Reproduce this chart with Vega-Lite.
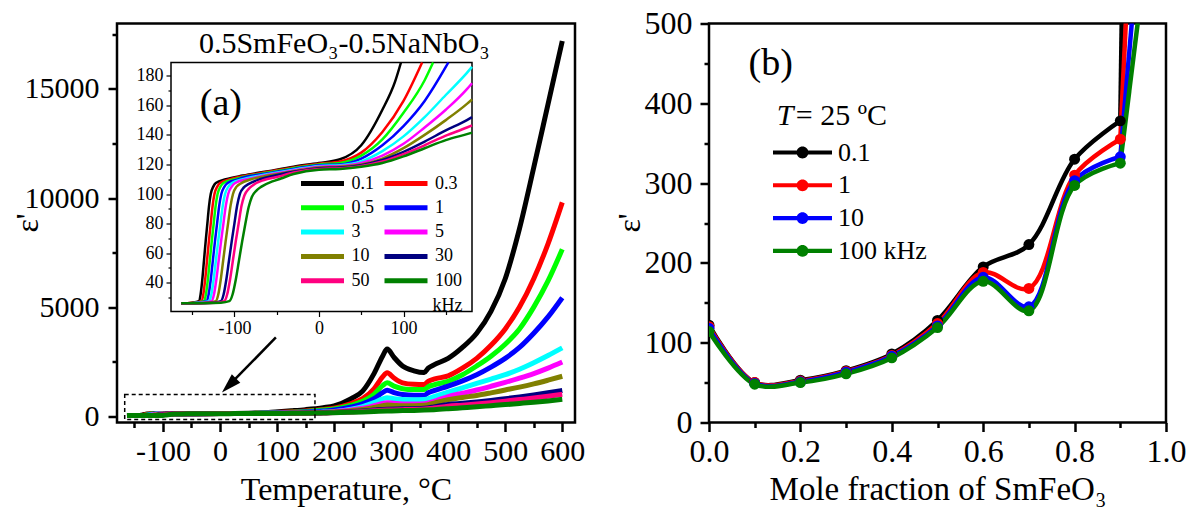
{
"$schema":"https://vega.github.io/schema/vega-lite/v6.json",
"background":"white",
"padding":{"left":9,"top":5.5,"right":2,"bottom":2},
"config":{"font":"Liberation Serif, Times New Roman, serif","view":{"stroke":"black","strokeWidth":2.5},
"axis":{"labelFont":"Liberation Serif","titleFont":"Liberation Serif","labelColor":"black","titleColor":"black","tickColor":"black","domain":false,"grid":false,"titleFontWeight":"normal","labelFlush":false,"labelOverlap":false},
"legend":{"labelFont":"Liberation Serif","titleFont":"Liberation Serif","labelColor":"black","titleColor":"black","titleFontWeight":"normal","padding":0},
"text":{"font":"Liberation Serif","color":"black"}},
"datasets":{
"a":[
{"f":0.1,"T":-163,"e":26},{"f":0.1,"T":-150,"e":26.5},{"f":0.1,"T":-142,"e":27.5},{"f":0.1,"T":-140,"e":32},{"f":0.1,"T":-138,"e":42},{"f":0.1,"T":-136,"e":55},{"f":0.1,"T":-134,"e":68},{"f":0.1,"T":-132,"e":80},{"f":0.1,"T":-130,"e":92},{"f":0.1,"T":-128,"e":100},{"f":0.1,"T":-125,"e":105},{"f":0.1,"T":-122,"e":107.5},{"f":0.1,"T":-110,"e":110},{"f":0.1,"T":-90,"e":112.5},{"f":0.1,"T":-60,"e":115.5},{"f":0.1,"T":-30,"e":118.5},{"f":0.1,"T":0,"e":121},{"f":0.1,"T":25,"e":123.5},{"f":0.1,"T":50,"e":133},{"f":0.1,"T":75,"e":157},{"f":0.1,"T":90,"e":176},{"f":0.1,"T":97,"e":189},{"f":0.1,"T":125,"e":245},{"f":0.1,"T":150,"e":300},{"f":0.1,"T":181,"e":390},{"f":0.1,"T":200,"e":470},{"f":0.1,"T":230,"e":800},{"f":0.1,"T":250,"e":1150},{"f":0.1,"T":270,"e":1950},{"f":0.1,"T":285,"e":2750},{"f":0.1,"T":293,"e":3080},{"f":0.1,"T":305,"e":2700},{"f":0.1,"T":320,"e":2300},{"f":0.1,"T":340,"e":2080},{"f":0.1,"T":358,"e":2000},{"f":0.1,"T":365,"e":2200},{"f":0.1,"T":375,"e":2350},{"f":0.1,"T":400,"e":2650},{"f":0.1,"T":425,"e":3150},{"f":0.1,"T":450,"e":3800},{"f":0.1,"T":475,"e":4800},{"f":0.1,"T":500,"e":6300},{"f":0.1,"T":525,"e":8600},{"f":0.1,"T":550,"e":11400},{"f":0.1,"T":575,"e":14300},{"f":0.1,"T":600,"e":17200},
{"f":0.3,"T":-163,"e":26},{"f":0.3,"T":-150,"e":26.5},{"f":0.3,"T":-139,"e":27.5},{"f":0.3,"T":-136.8,"e":32},{"f":0.3,"T":-134.6,"e":42},{"f":0.3,"T":-132.4,"e":55},{"f":0.3,"T":-130.2,"e":68},{"f":0.3,"T":-128,"e":80},{"f":0.3,"T":-125.8,"e":92},{"f":0.3,"T":-123.6,"e":100},{"f":0.3,"T":-120.3,"e":105},{"f":0.3,"T":-117,"e":107.5},{"f":0.3,"T":-105,"e":110},{"f":0.3,"T":-90,"e":112},{"f":0.3,"T":-60,"e":115},{"f":0.3,"T":-30,"e":118},{"f":0.3,"T":0,"e":120.5},{"f":0.3,"T":25,"e":122},{"f":0.3,"T":50,"e":128},{"f":0.3,"T":75,"e":142},{"f":0.3,"T":100,"e":163},{"f":0.3,"T":122,"e":189},{"f":0.3,"T":150,"e":232},{"f":0.3,"T":181,"e":305},{"f":0.3,"T":200,"e":370},{"f":0.3,"T":230,"e":580},{"f":0.3,"T":250,"e":800},{"f":0.3,"T":270,"e":1250},{"f":0.3,"T":285,"e":1800},{"f":0.3,"T":293,"e":1990},{"f":0.3,"T":305,"e":1750},{"f":0.3,"T":320,"e":1530},{"f":0.3,"T":340,"e":1460},{"f":0.3,"T":358,"e":1450},{"f":0.3,"T":365,"e":1600},{"f":0.3,"T":375,"e":1700},{"f":0.3,"T":400,"e":1850},{"f":0.3,"T":425,"e":2200},{"f":0.3,"T":450,"e":2650},{"f":0.3,"T":475,"e":3250},{"f":0.3,"T":500,"e":4000},{"f":0.3,"T":525,"e":5000},{"f":0.3,"T":550,"e":6300},{"f":0.3,"T":575,"e":7900},{"f":0.3,"T":600,"e":9800},
{"f":0.5,"T":-163,"e":26},{"f":0.5,"T":-146,"e":26.5},{"f":0.5,"T":-136,"e":27.5},{"f":0.5,"T":-133.7,"e":32},{"f":0.5,"T":-131.4,"e":42},{"f":0.5,"T":-129.1,"e":55},{"f":0.5,"T":-126.8,"e":68},{"f":0.5,"T":-124.5,"e":80},{"f":0.5,"T":-122.2,"e":92},{"f":0.5,"T":-119.9,"e":100},{"f":0.5,"T":-116.5,"e":105},{"f":0.5,"T":-113,"e":107.5},{"f":0.5,"T":-100,"e":110},{"f":0.5,"T":-90,"e":111.5},{"f":0.5,"T":-60,"e":114.5},{"f":0.5,"T":-30,"e":117.5},{"f":0.5,"T":0,"e":120},{"f":0.5,"T":25,"e":121},{"f":0.5,"T":50,"e":126},{"f":0.5,"T":75,"e":137},{"f":0.5,"T":100,"e":155},{"f":0.5,"T":125,"e":177},{"f":0.5,"T":135,"e":189},{"f":0.5,"T":150,"e":212},{"f":0.5,"T":181,"e":278},{"f":0.5,"T":200,"e":330},{"f":0.5,"T":230,"e":500},{"f":0.5,"T":250,"e":680},{"f":0.5,"T":270,"e":1000},{"f":0.5,"T":285,"e":1400},{"f":0.5,"T":293,"e":1530},{"f":0.5,"T":305,"e":1380},{"f":0.5,"T":320,"e":1260},{"f":0.5,"T":340,"e":1220},{"f":0.5,"T":358,"e":1220},{"f":0.5,"T":365,"e":1350},{"f":0.5,"T":375,"e":1440},{"f":0.5,"T":400,"e":1600},{"f":0.5,"T":425,"e":1900},{"f":0.5,"T":450,"e":2300},{"f":0.5,"T":475,"e":2750},{"f":0.5,"T":500,"e":3300},{"f":0.5,"T":525,"e":4000},{"f":0.5,"T":550,"e":5000},{"f":0.5,"T":575,"e":6200},{"f":0.5,"T":600,"e":7650},
{"f":1,"T":-163,"e":26},{"f":1,"T":-143,"e":26.5},{"f":1,"T":-133,"e":27.5},{"f":1,"T":-130.5,"e":32},{"f":1,"T":-128,"e":42},{"f":1,"T":-125.5,"e":55},{"f":1,"T":-123,"e":68},{"f":1,"T":-120.5,"e":80},{"f":1,"T":-118,"e":92},{"f":1,"T":-115.5,"e":100},{"f":1,"T":-111.8,"e":105},{"f":1,"T":-108,"e":107.5},{"f":1,"T":-95,"e":110},{"f":1,"T":-90,"e":111},{"f":1,"T":-60,"e":114},{"f":1,"T":-30,"e":117},{"f":1,"T":0,"e":119.5},{"f":1,"T":25,"e":120},{"f":1,"T":50,"e":124},{"f":1,"T":75,"e":133},{"f":1,"T":100,"e":146},{"f":1,"T":125,"e":163},{"f":1,"T":150,"e":186},{"f":1,"T":153,"e":189},{"f":1,"T":181,"e":235},{"f":1,"T":200,"e":280},{"f":1,"T":230,"e":420},{"f":1,"T":250,"e":560},{"f":1,"T":270,"e":800},{"f":1,"T":285,"e":1080},{"f":1,"T":293,"e":1190},{"f":1,"T":305,"e":1080},{"f":1,"T":320,"e":990},{"f":1,"T":340,"e":960},{"f":1,"T":358,"e":960},{"f":1,"T":365,"e":1070},{"f":1,"T":375,"e":1170},{"f":1,"T":400,"e":1380},{"f":1,"T":425,"e":1620},{"f":1,"T":450,"e":1900},{"f":1,"T":475,"e":2250},{"f":1,"T":500,"e":2650},{"f":1,"T":525,"e":3150},{"f":1,"T":550,"e":3800},{"f":1,"T":575,"e":4550},{"f":1,"T":600,"e":5430},
{"f":3,"T":-163,"e":26},{"f":3,"T":-140,"e":26.5},{"f":3,"T":-130,"e":27.5},{"f":3,"T":-127.3,"e":32},{"f":3,"T":-124.6,"e":42},{"f":3,"T":-121.9,"e":55},{"f":3,"T":-119.2,"e":68},{"f":3,"T":-116.5,"e":80},{"f":3,"T":-113.8,"e":92},{"f":3,"T":-111.1,"e":100},{"f":3,"T":-107.1,"e":105},{"f":3,"T":-103,"e":107.5},{"f":3,"T":-90,"e":110},{"f":3,"T":-60,"e":113.5},{"f":3,"T":-30,"e":116.5},{"f":3,"T":0,"e":119},{"f":3,"T":25,"e":119.5},{"f":3,"T":50,"e":122},{"f":3,"T":75,"e":129},{"f":3,"T":100,"e":139},{"f":3,"T":125,"e":152},{"f":3,"T":150,"e":167},{"f":3,"T":175,"e":182},{"f":3,"T":181,"e":186},{"f":3,"T":200,"e":220},{"f":3,"T":230,"e":320},{"f":3,"T":250,"e":440},{"f":3,"T":270,"e":620},{"f":3,"T":285,"e":790},{"f":3,"T":293,"e":850},{"f":3,"T":305,"e":800},{"f":3,"T":320,"e":760},{"f":3,"T":340,"e":750},{"f":3,"T":358,"e":760},{"f":3,"T":375,"e":900},{"f":3,"T":400,"e":1100},{"f":3,"T":425,"e":1300},{"f":3,"T":450,"e":1500},{"f":3,"T":475,"e":1700},{"f":3,"T":500,"e":1900},{"f":3,"T":525,"e":2150},{"f":3,"T":550,"e":2450},{"f":3,"T":575,"e":2780},{"f":3,"T":600,"e":3130},
{"f":5,"T":-163,"e":26},{"f":5,"T":-137,"e":26.5},{"f":5,"T":-127,"e":27.5},{"f":5,"T":-124.2,"e":32},{"f":5,"T":-121.4,"e":42},{"f":5,"T":-118.6,"e":55},{"f":5,"T":-115.8,"e":68},{"f":5,"T":-113,"e":80},{"f":5,"T":-110.2,"e":92},{"f":5,"T":-107.4,"e":100},{"f":5,"T":-103.2,"e":105},{"f":5,"T":-99,"e":107.5},{"f":5,"T":-85,"e":110},{"f":5,"T":-60,"e":113},{"f":5,"T":-30,"e":116},{"f":5,"T":0,"e":118.5},{"f":5,"T":25,"e":119},{"f":5,"T":50,"e":121},{"f":5,"T":75,"e":126},{"f":5,"T":100,"e":134},{"f":5,"T":125,"e":145},{"f":5,"T":150,"e":157},{"f":5,"T":175,"e":171},{"f":5,"T":181,"e":175},{"f":5,"T":200,"e":205},{"f":5,"T":230,"e":280},{"f":5,"T":250,"e":360},{"f":5,"T":270,"e":480},{"f":5,"T":285,"e":580},{"f":5,"T":293,"e":615},{"f":5,"T":305,"e":590},{"f":5,"T":320,"e":560},{"f":5,"T":340,"e":555},{"f":5,"T":358,"e":570},{"f":5,"T":375,"e":680},{"f":5,"T":400,"e":900},{"f":5,"T":425,"e":1050},{"f":5,"T":450,"e":1200},{"f":5,"T":475,"e":1370},{"f":5,"T":500,"e":1550},{"f":5,"T":525,"e":1740},{"f":5,"T":550,"e":1950},{"f":5,"T":575,"e":2200},{"f":5,"T":600,"e":2480},
{"f":10,"T":-163,"e":26},{"f":10,"T":-132,"e":26.5},{"f":10,"T":-122,"e":27.5},{"f":10,"T":-119.1,"e":32},{"f":10,"T":-116.2,"e":42},{"f":10,"T":-113.3,"e":55},{"f":10,"T":-110.4,"e":68},{"f":10,"T":-107.5,"e":80},{"f":10,"T":-104.6,"e":92},{"f":10,"T":-101.7,"e":100},{"f":10,"T":-97.4,"e":105},{"f":10,"T":-93,"e":107},{"f":10,"T":-80,"e":110},{"f":10,"T":-60,"e":112.5},{"f":10,"T":-30,"e":115.5},{"f":10,"T":0,"e":118},{"f":10,"T":25,"e":118.5},{"f":10,"T":50,"e":120},{"f":10,"T":75,"e":124},{"f":10,"T":100,"e":131},{"f":10,"T":125,"e":140},{"f":10,"T":150,"e":150},{"f":10,"T":175,"e":161},{"f":10,"T":181,"e":164},{"f":10,"T":200,"e":190},{"f":10,"T":230,"e":250},{"f":10,"T":250,"e":310},{"f":10,"T":270,"e":400},{"f":10,"T":285,"e":480},{"f":10,"T":293,"e":510},{"f":10,"T":305,"e":495},{"f":10,"T":320,"e":480},{"f":10,"T":340,"e":480},{"f":10,"T":358,"e":500},{"f":10,"T":375,"e":600},{"f":10,"T":400,"e":760},{"f":10,"T":425,"e":860},{"f":10,"T":450,"e":950},{"f":10,"T":475,"e":1070},{"f":10,"T":500,"e":1200},{"f":10,"T":525,"e":1330},{"f":10,"T":550,"e":1480},{"f":10,"T":575,"e":1650},{"f":10,"T":600,"e":1830},
{"f":30,"T":-163,"e":26},{"f":30,"T":-126,"e":26.5},{"f":30,"T":-116,"e":27.5},{"f":30,"T":-112.8,"e":32},{"f":30,"T":-109.6,"e":42},{"f":30,"T":-106.4,"e":55},{"f":30,"T":-103.2,"e":68},{"f":30,"T":-100,"e":80},{"f":30,"T":-96.8,"e":92},{"f":30,"T":-93.6,"e":100},{"f":30,"T":-88.8,"e":104.5},{"f":30,"T":-84,"e":106.5},{"f":30,"T":-70,"e":110},{"f":30,"T":-60,"e":111.5},{"f":30,"T":-30,"e":115},{"f":30,"T":0,"e":117.5},{"f":30,"T":25,"e":118},{"f":30,"T":50,"e":119.5},{"f":30,"T":75,"e":123},{"f":30,"T":100,"e":128.5},{"f":30,"T":125,"e":135.5},{"f":30,"T":150,"e":143},{"f":30,"T":175,"e":150},{"f":30,"T":181,"e":152},{"f":30,"T":200,"e":170},{"f":30,"T":230,"e":210},{"f":30,"T":250,"e":240},{"f":30,"T":270,"e":280},{"f":30,"T":293,"e":320},{"f":30,"T":320,"e":335},{"f":30,"T":340,"e":345},{"f":30,"T":358,"e":360},{"f":30,"T":375,"e":420},{"f":30,"T":400,"e":540},{"f":30,"T":425,"e":590},{"f":30,"T":450,"e":650},{"f":30,"T":475,"e":720},{"f":30,"T":500,"e":800},{"f":30,"T":525,"e":880},{"f":30,"T":550,"e":970},{"f":30,"T":575,"e":1070},{"f":30,"T":600,"e":1180},
{"f":50,"T":-163,"e":26},{"f":50,"T":-122,"e":26.5},{"f":50,"T":-112,"e":27.5},{"f":50,"T":-108.6,"e":32},{"f":50,"T":-105.2,"e":42},{"f":50,"T":-101.8,"e":55},{"f":50,"T":-98.4,"e":68},{"f":50,"T":-95,"e":80},{"f":50,"T":-91.6,"e":92},{"f":50,"T":-88.2,"e":99},{"f":50,"T":-83.1,"e":103.5},{"f":50,"T":-78,"e":106},{"f":50,"T":-65,"e":109.5},{"f":50,"T":-50,"e":111.5},{"f":50,"T":-30,"e":114.5},{"f":50,"T":0,"e":117},{"f":50,"T":25,"e":117.5},{"f":50,"T":50,"e":119},{"f":50,"T":75,"e":122},{"f":50,"T":100,"e":127},{"f":50,"T":125,"e":133},{"f":50,"T":150,"e":139.5},{"f":50,"T":175,"e":145},{"f":50,"T":181,"e":146.5},{"f":50,"T":200,"e":165},{"f":50,"T":230,"e":195},{"f":50,"T":250,"e":220},{"f":50,"T":270,"e":250},{"f":50,"T":293,"e":280},{"f":50,"T":320,"e":300},{"f":50,"T":340,"e":310},{"f":50,"T":358,"e":325},{"f":50,"T":375,"e":370},{"f":50,"T":400,"e":460},{"f":50,"T":425,"e":505},{"f":50,"T":450,"e":560},{"f":50,"T":475,"e":620},{"f":50,"T":500,"e":690},{"f":50,"T":525,"e":760},{"f":50,"T":550,"e":830},{"f":50,"T":575,"e":910},{"f":50,"T":600,"e":1000},
{"f":100,"T":-163,"e":26},{"f":100,"T":-116,"e":26.5},{"f":100,"T":-106,"e":27.5},{"f":100,"T":-102.2,"e":32},{"f":100,"T":-98.4,"e":42},{"f":100,"T":-94.6,"e":55},{"f":100,"T":-90.8,"e":68},{"f":100,"T":-87,"e":80},{"f":100,"T":-83.2,"e":91},{"f":100,"T":-79.4,"e":98},{"f":100,"T":-73.7,"e":102.5},{"f":100,"T":-68,"e":105},{"f":100,"T":-55,"e":108.5},{"f":100,"T":-45,"e":110.5},{"f":100,"T":-30,"e":113.5},{"f":100,"T":0,"e":116.5},{"f":100,"T":25,"e":117},{"f":100,"T":50,"e":118.5},{"f":100,"T":75,"e":121},{"f":100,"T":100,"e":125.5},{"f":100,"T":125,"e":131},{"f":100,"T":150,"e":136.5},{"f":100,"T":175,"e":140.5},{"f":100,"T":181,"e":141.5},{"f":100,"T":200,"e":158},{"f":100,"T":230,"e":180},{"f":100,"T":250,"e":195},{"f":100,"T":270,"e":215},{"f":100,"T":293,"e":240},{"f":100,"T":320,"e":255},{"f":100,"T":340,"e":265},{"f":100,"T":358,"e":280},{"f":100,"T":375,"e":300},{"f":100,"T":400,"e":340},{"f":100,"T":425,"e":385},{"f":100,"T":450,"e":430},{"f":100,"T":475,"e":480},{"f":100,"T":500,"e":530},{"f":100,"T":525,"e":585},{"f":100,"T":550,"e":640},{"f":100,"T":575,"e":700},{"f":100,"T":600,"e":770}
],
"b":[
{"s":"0.1","x":0,"e":122},{"s":"0.1","x":0.1,"e":50},{"s":"0.1","x":0.2,"e":53},{"s":"0.1","x":0.3,"e":65},{"s":"0.1","x":0.4,"e":86},{"s":"0.1","x":0.5,"e":128},{"s":"0.1","x":0.6,"e":195},{"s":"0.1","x":0.7,"e":223},{"s":"0.1","x":0.8,"e":330},{"s":"0.1","x":0.9,"e":378},{"s":"0.1","x":1.0,"e":4450},
{"s":"1","x":0,"e":120},{"s":"1","x":0.1,"e":50},{"s":"1","x":0.2,"e":52},{"s":"1","x":0.3,"e":64},{"s":"1","x":0.4,"e":84},{"s":"1","x":0.5,"e":124},{"s":"1","x":0.6,"e":188},{"s":"1","x":0.7,"e":168},{"s":"1","x":0.8,"e":310},{"s":"1","x":0.9,"e":355},{"s":"1","x":1.0,"e":1560},
{"s":"10","x":0,"e":118},{"s":"10","x":0.1,"e":49},{"s":"10","x":0.2,"e":51},{"s":"10","x":0.3,"e":63},{"s":"10","x":0.4,"e":83},{"s":"10","x":0.5,"e":121},{"s":"10","x":0.6,"e":182},{"s":"10","x":0.7,"e":145},{"s":"10","x":0.8,"e":303},{"s":"10","x":0.9,"e":333},{"s":"10","x":1.0,"e":1000},
{"s":"100 kHz","x":0,"e":114},{"s":"100 kHz","x":0.1,"e":48},{"s":"100 kHz","x":0.2,"e":50},{"s":"100 kHz","x":0.3,"e":61},{"s":"100 kHz","x":0.4,"e":81},{"s":"100 kHz","x":0.5,"e":119},{"s":"100 kHz","x":0.6,"e":177},{"s":"100 kHz","x":0.7,"e":140},{"s":"100 kHz","x":0.8,"e":297},{"s":"100 kHz","x":0.9,"e":325},{"s":"100 kHz","x":1.0,"e":786}
]},
"spacing":24,
"resolve":{"scale":{"color":"independent"},"legend":{"color":"independent"}},
"hconcat":[
{"width":458,"height":399,
"resolve":{"scale":{"x":"independent","y":"independent"}},
"layer":[
{"resolve":{"axis":{"x":"independent","y":"independent"}},
"layer":[
{"data":{"name":"a"},
"mark":{"type":"line","strokeWidth":5,"interpolate":"monotone"},
"encoding":{
"x":{"field":"T","type":"quantitative","scale":{"domain":[-180.5,622.3],"nice":false,"zero":false},"axis":{"orient":"bottom","values":[-100,0,100,200,300,400,500,600],"format":"d","labelExpr":"replace(datum.label,'−','-')","tickSize":9,"tickWidth":2.5,"labelFont":"Liberation Serif","labelFontSize":30,"labelPadding":4.5,"title":"Temperature, °C","titleFont":"Liberation Serif","titleFontSize":32,"titlePadding":8}},
"y":{"field":"e","type":"quantitative","scale":{"domain":[-290,18000],"nice":false,"zero":false},"axis":{"orient":"left","values":[0,5000,10000,15000],"format":"d","tickSize":9,"tickWidth":2.5,"labelFont":"Liberation Serif","labelFontSize":30,"labelPadding":9,"title":"ε'","titleFont":"Liberation Serif","titleFontSize":32,"titleX":-90,"titleY":199,"titleAngle":-90,"titleAlign":"center","titleBaseline":"middle"}},
"color":{"field":"f","type":"ordinal","scale":{"domain":[0.1,0.3,0.5,1,3,5,10,30,50,100],"range":["#000000","#ff0000","#00ff00","#0000ff","#00ffff","#ff00ff","#808000","#000080","#ff0080","#008000"]},
"legend":{"orient":"none","legendX":181.5,"legendY":151,"columns":2,"direction":"horizontal","symbolType":"stroke","symbolSize":1849,"symbolStrokeWidth":5,"clipHeight":18,"rowPadding":6.3,"columnPadding":7.5,"labelOffset":5,"labelFont":"Liberation Serif","labelFontSize":18,"title":"kHz\u00a0\u00a0\u00a0\u00a0","titleFont":"Liberation Serif","titleOrient":"bottom","titleAnchor":"end","titleFontSize":18,"titlePadding":7}}}},
{"data":{"values":[{}]},
"mark":{"type":"rect","fill":"transparent","stroke":"black","strokeWidth":1.5,"strokeDash":[4,3]},
"encoding":{
"x":{"datum":-167,"type":"quantitative","scale":{"domain":[-180.5,622.3],"nice":false,"zero":false},"axis":{"orient":"bottom","values":[-150,-50,50,150,250,350,450,550],"tickSize":5,"tickWidth":2.5,"labels":false,"title":null}},
"x2":{"datum":166.5},
"y":{"datum":-151,"type":"quantitative","scale":{"domain":[-290,18000],"nice":false,"zero":false},"axis":{"orient":"left","values":[2500,7500,12500,17500],"tickSize":5,"tickWidth":2.5,"labels":false,"title":null}},
"y2":{"datum":994}}},
{"data":{"values":[{}]},
"mark":{"type":"rule","strokeWidth":2.5,"color":"black"},
"encoding":{
"x":{"datum":98,"type":"quantitative","scale":{"domain":[-180.5,622.3],"nice":false,"zero":false},"axis":null},
"x2":{"datum":25.6},
"y":{"datum":3607,"type":"quantitative","scale":{"domain":[-290,18000],"nice":false,"zero":false},"axis":null},
"y2":{"datum":1673}}},
{"data":{"values":[{}]},
"mark":{"type":"point","shape":"M0,-1L0.6,1L-0.6,1Z","filled":true,"color":"black","opacity":1,"size":400,"angle":225},
"encoding":{
"x":{"datum":15.8,"type":"quantitative","scale":{"domain":[-180.5,622.3],"nice":false,"zero":false},"axis":null},
"y":{"datum":1407,"type":"quantitative","scale":{"domain":[-290,18000],"nice":false,"zero":false},"axis":null}}},
{"data":{"values":[{}]},
"mark":{"type":"text","text":"0.5SmFeO₃-0.5NaNbO₃","fontSize":30,"align":"center","baseline":"alphabetic"},
"encoding":{
"x":{"datum":218,"type":"quantitative","scale":{"domain":[-180.5,622.3],"nice":false,"zero":false},"axis":null},
"y":{"datum":16668,"type":"quantitative","scale":{"domain":[-290,18000],"nice":false,"zero":false},"axis":null}}}
]},
{"resolve":{"axis":{"x":"independent","y":"independent"}},
"layer":[
{"data":{"values":[{}]},
"mark":{"type":"rect","fill":"white","stroke":"black","strokeWidth":1.5},
"encoding":{
"x":{"datum":-175,"type":"quantitative","scale":{"domain":[-175,181],"range":[54,355],"nice":false,"zero":false},"axis":{"orient":"bottom","offset":-111,"values":[-150,-50,50,150],"tickSize":3,"tickWidth":1.2,"labels":false,"title":null}},
"x2":{"datum":181},
"y":{"datum":20.5,"type":"quantitative","scale":{"domain":[20.5,189],"range":[288,39],"nice":false,"zero":false},"axis":{"orient":"left","offset":-54,"values":[30,50,70,90,110,130,150,170],"tickSize":3,"tickWidth":1.2,"labels":false,"title":null}},
"y2":{"datum":189}}},
{"data":{"name":"a"},
"transform":[{"filter":"datum.T <= 181 && datum.e <= 189.5"}],
"mark":{"type":"line","strokeWidth":2.5,"interpolate":"monotone"},
"encoding":{
"x":{"field":"T","type":"quantitative","scale":{"domain":[-175,181],"range":[54,355],"nice":false,"zero":false},"axis":{"orient":"bottom","offset":-111,"values":[-100,0,100],"format":"d","labelExpr":"replace(datum.label,'−','-')","tickSize":5,"tickWidth":1.2,"labelFont":"Liberation Serif","labelFontSize":18,"labelPadding":3,"title":null}},
"y":{"field":"e","type":"quantitative","scale":{"domain":[20.5,189],"range":[288,39],"nice":false,"zero":false},"axis":{"orient":"left","offset":-54,"values":[40,60,80,100,120,140,160,180],"format":"d","tickSize":5,"tickWidth":1.2,"labelFont":"Liberation Serif","labelFontSize":18,"labelPadding":3,"title":null}},
"color":{"field":"f","type":"ordinal","scale":{"domain":[0.1,0.3,0.5,1,3,5,10,30,50,100],"range":["#000000","#ff0000","#00ff00","#0000ff","#00ffff","#ff00ff","#808000","#000080","#ff0080","#008000"]},
"legend":{"orient":"none","legendX":181.5,"legendY":151,"columns":2,"direction":"horizontal","symbolType":"stroke","symbolSize":1849,"symbolStrokeWidth":5,"clipHeight":18,"rowPadding":6.3,"columnPadding":7.5,"labelOffset":5,"labelFont":"Liberation Serif","labelFontSize":18,"title":"kHz\u00a0\u00a0\u00a0\u00a0","titleFont":"Liberation Serif","titleOrient":"bottom","titleAnchor":"end","titleFontSize":18,"titlePadding":7}}}},
{"data":{"values":[{}]},
"mark":{"type":"text","text":"(a)","fontSize":38,"align":"center","baseline":"alphabetic"},
"encoding":{
"x":{"datum":-116,"type":"quantitative","scale":{"domain":[-175,181],"range":[54,355],"nice":false,"zero":false},"axis":null},
"y":{"datum":153.8,"type":"quantitative","scale":{"domain":[20.5,189],"range":[288,39],"nice":false,"zero":false},"axis":null}}}
]}
]},
{"width":457,"height":399,
"resolve":{"axis":{"x":"independent","y":"independent"}},
"layer":[
{"data":{"name":"b"},
"transform":[{"filter":"datum.x <= 0.9"}],
"mark":{"type":"line","strokeWidth":4.5,"interpolate":"catmull-rom","clip":true},
"encoding":{
"x":{"field":"x","type":"quantitative","scale":{"domain":[0,1],"nice":false,"zero":false},"axis":{"orient":"bottom","values":[0,0.2,0.4,0.6,0.8,1],"format":".1f","tickSize":9,"tickWidth":2.5,"labelFont":"Liberation Serif","labelFontSize":32,"labelPadding":5,"title":"Mole fraction of SmFeO₃","titleFont":"Liberation Serif","titleFontSize":33,"titlePadding":6}},
"y":{"field":"e","type":"quantitative","scale":{"domain":[0,500],"nice":false,"zero":false},"axis":{"orient":"left","values":[0,100,200,300,400,500],"format":"d","tickSize":9,"tickWidth":2.5,"labelFont":"Liberation Serif","labelFontSize":32,"labelPadding":8,"title":"ε'","titleFont":"Liberation Serif","titleFontSize":32,"titleX":-80,"titleY":199,"titleAngle":-90,"titleAlign":"center","titleBaseline":"middle"}},
"color":{"field":"s","type":"nominal","scale":{"domain":["0.1","1","10","100 kHz"],"range":["#000000","#ff0000","#0000ff","#008000"]},
"legend":{"orient":"none","legendX":64,"legendY":115.5,"symbolType":"M-1,-0.07L1,-0.07L1,0.07L-1,0.07Z M0.2,0A0.2,0.2 0 1,1 -0.2,0A0.2,0.2 0 1,1 0.2,0Z","symbolSize":3481,"symbolOpacity":1,"symbolStrokeWidth":0,"clipHeight":27,"rowPadding":5.8,"labelOffset":6,"labelFont":"Liberation Serif","labelFontSize":26,"title":null}}}},
{"data":{"name":"b"},
"transform":[{"filter":"datum.x >= 0.9"}],
"mark":{"type":"line","strokeWidth":4.5,"interpolate":"linear","clip":true},
"encoding":{
"x":{"field":"x","type":"quantitative","scale":{"domain":[0,1],"nice":false,"zero":false},"axis":null},
"y":{"field":"e","type":"quantitative","scale":{"domain":[0,500],"nice":false,"zero":false},"axis":null},
"color":{"field":"s","type":"nominal","scale":{"domain":["0.1","1","10","100 kHz"],"range":["#000000","#ff0000","#0000ff","#008000"]},
"legend":{"orient":"none","legendX":64,"legendY":115.5,"symbolType":"M-1,-0.07L1,-0.07L1,0.07L-1,0.07Z M0.2,0A0.2,0.2 0 1,1 -0.2,0A0.2,0.2 0 1,1 0.2,0Z","symbolSize":3481,"symbolOpacity":1,"symbolStrokeWidth":0,"clipHeight":27,"rowPadding":5.8,"labelOffset":6,"labelFont":"Liberation Serif","labelFontSize":26,"title":null}}}},
{"data":{"name":"b"},
"transform":[{"filter":"datum.x <= 0.95"}],
"mark":{"type":"point","shape":"circle","filled":true,"size":120,"opacity":1,"clip":true},
"encoding":{
"x":{"field":"x","type":"quantitative","scale":{"domain":[0,1],"nice":false,"zero":false},"axis":{"orient":"bottom","values":[0.1,0.3,0.5,0.7,0.9],"tickSize":5,"tickWidth":2.5,"labels":false,"title":null}},
"y":{"field":"e","type":"quantitative","scale":{"domain":[0,500],"nice":false,"zero":false},"axis":{"orient":"left","values":[50,150,250,350,450],"tickSize":5,"tickWidth":2.5,"labels":false,"title":null}},
"color":{"field":"s","type":"nominal","scale":{"domain":["0.1","1","10","100 kHz"],"range":["#000000","#ff0000","#0000ff","#008000"]},
"legend":{"orient":"none","legendX":64,"legendY":115.5,"symbolType":"M-1,-0.07L1,-0.07L1,0.07L-1,0.07Z M0.2,0A0.2,0.2 0 1,1 -0.2,0A0.2,0.2 0 1,1 0.2,0Z","symbolSize":3481,"symbolOpacity":1,"symbolStrokeWidth":0,"clipHeight":27,"rowPadding":5.8,"labelOffset":6,"labelFont":"Liberation Serif","labelFontSize":26,"title":null}}}},
{"data":{"values":[{}]},
"mark":{"type":"text","text":"(b)","fontSize":38,"align":"center","baseline":"alphabetic"},
"encoding":{
"x":{"datum":0.135,"type":"quantitative","scale":{"domain":[0,1],"nice":false,"zero":false},"axis":null},
"y":{"datum":436,"type":"quantitative","scale":{"domain":[0,500],"nice":false,"zero":false},"axis":null}}},
{"data":{"values":[{}]},
"mark":{"type":"text","text":"T","fontSize":30,"fontStyle":"italic","align":"left","baseline":"alphabetic"},
"encoding":{
"x":{"datum":0.1483,"type":"quantitative","scale":{"domain":[0,1],"nice":false,"zero":false},"axis":null},
"y":{"datum":373,"type":"quantitative","scale":{"domain":[0,500],"nice":false,"zero":false},"axis":null}}},
{"data":{"values":[{}]},
"mark":{"type":"text","text":"= 25 ºC","fontSize":30,"align":"left","baseline":"alphabetic"},
"encoding":{
"x":{"datum":0.19,"type":"quantitative","scale":{"domain":[0,1],"nice":false,"zero":false},"axis":null},
"y":{"datum":373,"type":"quantitative","scale":{"domain":[0,500],"nice":false,"zero":false},"axis":null}}}
]}
]
}
